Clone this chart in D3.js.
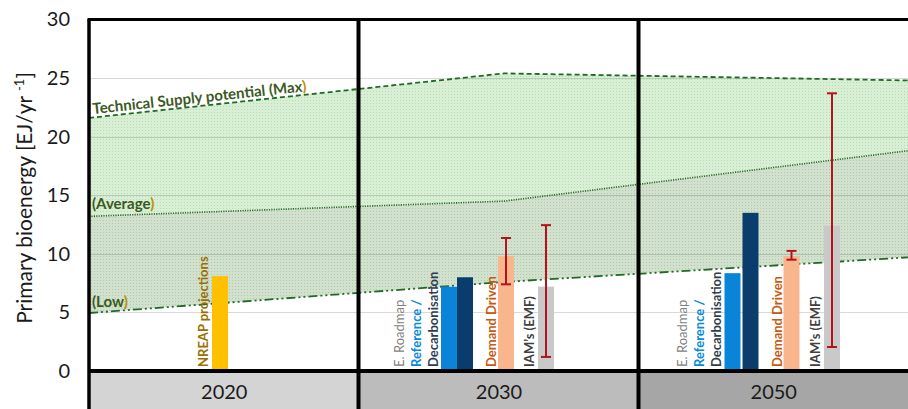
<!DOCTYPE html>
<html>
<head>
<meta charset="utf-8">
<script src="https://cdn.jsdelivr.net/npm/d3@7"></script>
<style>
  html, body { margin: 0; padding: 0; background: #fff; }
  svg { display: block; }
  text { font-family: Lato, "Open Sans", sans-serif; }
</style>
</head>
<body>
<svg id="chart" width="908" height="409"></svg>
<script>
// ---- data -------------------------------------------------------------
const categories = ["2020", "2030", "2050"];
const yTicks = [0, 5, 10, 15, 20, 25, 30];

// bar series, one value per category (null = not shown)
const nreapProjections   = [8.1, null, null];
const roadmapReference   = [null, 7.2, 8.35];
const roadmapDecarbon    = [null, 8.0, 13.5];
const demandDriven       = [null, 9.8, 9.8];
const demandDrivenLow    = [null, 7.4, 9.5];
const demandDrivenHigh   = [null, 11.35, 10.25];
const iamEmf             = [null, 7.2, 12.4];
const iamEmfLow          = [null, 1.2, 2.05];
const iamEmfHigh         = [null, 12.45, 23.7];

// technical supply potential envelope (x in category units, 0..3)
const potentialX   = [0, 1.52, 3];
const potentialMax = [21.6, 25.4, 24.8];
const potentialAvg = [13.2, 14.5, 18.8];
const potentialLow = [4.95, 7.6, 9.7];

// ---- layout -----------------------------------------------------------
const svg = d3.select("#chart");
const W = 908, H = 409;
const plotTop = 19.5, plotBottom = 371;
const x = d3.scaleLinear().domain([0, 1, 2, 3]).range([89, 358.5, 638.5, 908]);
const y = d3.scaleLinear().domain([0, 30]).range([plotBottom, plotTop]);

// bar centre offsets (px from the category's left edge)
const barWidth = 16;
const slots = {
  nreap: { off: [131, null, null], color: "#ffc000" },
  ref:   { off: [null, 90.5, 94],  color: "#0a84d8" },
  dec:   { off: [null, 106.5, 112], color: "#0b3d6c" },
  dd:    { off: [null, 147.5, 153], color: "#f9b58b" },
  iam:   { off: [null, 187.5, 193.5], color: "#c9c9c9" }
};
const barCx = (key, i) => x(i) + slots[key].off[i];

// ---- category band below the axis --------------------------------------
const bandFill = ["#d4d4d4", "#bcbcbc", "#a6a6a6"];
svg.append("g").selectAll("rect").data(categories).join("rect")
  .attr("x", (d, i) => x(i)).attr("y", plotBottom)
  .attr("width", (d, i) => x(i + 1) - x(i)).attr("height", H - plotBottom)
  .attr("fill", (d, i) => bandFill[i]);

// ---- potential envelope --------------------------------------------------
const defs = svg.append("defs");
function dotPattern(id, base, dot) {
  const p = defs.append("pattern").attr("id", id).attr("patternUnits", "userSpaceOnUse")
    .attr("width", 3).attr("height", 3);
  p.append("rect").attr("width", 3).attr("height", 3).attr("fill", base);
  p.append("rect").attr("x", 1).attr("y", 1).attr("width", 1).attr("height", 1).attr("fill", dot);
}
dotPattern("fillUpper", "#d9efd5", "#b8dcb1");
dotPattern("fillLower", "#d1e1cd", "#b3c9ad");

const env = potentialX.map((px, i) => ({ px, max: potentialMax[i], avg: potentialAvg[i], low: potentialLow[i] }));
const areaUpper = d3.area().x(d => x(d.px)).y0(d => y(d.avg)).y1(d => y(d.max));
const areaLower = d3.area().x(d => x(d.px)).y0(d => y(d.low)).y1(d => y(d.avg));
svg.append("path").datum(env).attr("d", areaUpper).attr("fill", "url(#fillUpper)");
svg.append("path").datum(env).attr("d", areaLower).attr("fill", "url(#fillLower)");

// ---- gridlines -----------------------------------------------------------
svg.append("g").selectAll("line").data(yTicks.filter(t => t > 0 && t < 30)).join("line")
  .attr("x1", x(0)).attr("x2", x(3))
  .attr("y1", d => Math.round(y(d)) + 0.5).attr("y2", d => Math.round(y(d)) + 0.5)
  .attr("stroke", "#000").attr("stroke-opacity", 0.15).attr("stroke-width", 1);

// ---- envelope lines ------------------------------------------------------
const lineOf = key => d3.line().x(d => x(d.px)).y(d => y(d[key]));
svg.append("path").datum(env).attr("d", lineOf("max")).attr("fill", "none")
  .attr("stroke", "#1f6b25").attr("stroke-width", 1.8).attr("stroke-dasharray", "5,3");
svg.append("path").datum(env).attr("d", lineOf("avg")).attr("fill", "none")
  .attr("stroke", "#2c6a2a").attr("stroke-width", 1.6).attr("stroke-dasharray", "1.2,1.2");
svg.append("path").datum(env).attr("d", lineOf("low")).attr("fill", "none")
  .attr("stroke", "#1f6b25").attr("stroke-width", 1.8).attr("stroke-dasharray", "9,3,2,3,2,3");

// envelope labels
const green = "#3a5a22", gold = "#bf8f00";
function envLabel(txt, px, py, rot) {
  const t = svg.append("text").attr("transform", `translate(${px},${py}) rotate(${rot})`)
    .attr("font-size", 15).attr("font-weight", 700).attr("fill", green);
  t.append("tspan").text(txt);
  t.append("tspan").attr("fill", gold).text(")");
}
envLabel("Technical Supply potential (Max", 93, 114, -6.1);
envLabel("(Average", 92, 209, 0);
envLabel("(Low", 92, 307, 0);

// ---- bars ----------------------------------------------------------------
const barSeries = [
  { key: "nreap", values: nreapProjections },
  { key: "ref", values: roadmapReference },
  { key: "dec", values: roadmapDecarbon },
  { key: "dd", values: demandDriven },
  { key: "iam", values: iamEmf }
];
const barData = [];
barSeries.forEach(s => s.values.forEach((v, i) => { if (v != null) barData.push({ key: s.key, i, v }); }));
svg.append("g").selectAll("rect").data(barData).join("rect")
  .attr("x", d => barCx(d.key, d.i) - barWidth / 2).attr("width", barWidth)
  .attr("y", d => y(d.v)).attr("height", d => y(0) - y(d.v))
  .attr("fill", d => slots[d.key].color);

// ---- error bars ------------------------------------------------------------
const errData = [];
[{ key: "dd", lo: demandDrivenLow, hi: demandDrivenHigh }, { key: "iam", lo: iamEmfLow, hi: iamEmfHigh }]
  .forEach(s => s.lo.forEach((lo, i) => { if (lo != null) errData.push({ key: s.key, i, lo, hi: s.hi[i] }); }));
const eg = svg.append("g").attr("stroke", "#b3141c").attr("stroke-width", 2);
errData.forEach(d => {
  const cx = barCx(d.key, d.i);
  eg.append("line").attr("x1", cx).attr("x2", cx).attr("y1", y(d.lo)).attr("y2", y(d.hi));
  eg.append("line").attr("x1", cx - 5).attr("x2", cx + 5).attr("y1", y(d.lo)).attr("y2", y(d.lo));
  eg.append("line").attr("x1", cx - 5).attr("x2", cx + 5).attr("y1", y(d.hi)).attr("y2", y(d.hi));
});

// ---- vertical series labels (offset in px from the bar centre) ---------------
const labelDefs = [
  { key: "nreap", dx: -17,  text: "NREAP projections", color: "#9a7000", weight: 700 },
  { key: "ref",   dx: -50,  text: "E. Roadmap",        color: "#7f7f7f", weight: 400 },
  { key: "ref",   dx: -33,  text: "Reference /",       color: "#0a8ad8", weight: 700 },
  { key: "ref",   dx: -16,  text: "Decarbonisation",   color: "#2f3d52", weight: 700 },
  { key: "dd",    dx: -14.5, text: "Demand Driven",    color: "#c55a11", weight: 700 },
  { key: "iam",   dx: -16.5, text: "IAM\u2019s (EMF)",  color: "#404040", weight: 700 }
];
const labelData = [];
labelDefs.forEach(l => categories.forEach((c, i) => { if (slots[l.key].off[i] != null) labelData.push({ ...l, i }); }));
svg.append("g").selectAll("text").data(labelData).join("text")
  .attr("transform", d => `translate(${barCx(d.key, d.i) + d.dx},367) rotate(-90)`)
  .attr("dy", "0.36em").attr("font-size", 13).attr("font-weight", d => d.weight)
  .attr("fill", d => d.color).text(d => d.text);

// ---- frame ----------------------------------------------------------------
const frame = svg.append("g").attr("stroke", "#000");
frame.append("line").attr("x1", x(0) - 1.5).attr("x2", x(3)).attr("y1", plotTop).attr("y2", plotTop).attr("stroke-width", 3);
[0, 1, 2].forEach(i => frame.append("line").attr("x1", x(i)).attr("x2", x(i))
  .attr("y1", plotTop).attr("y2", H).attr("stroke-width", i === 0 ? 3.5 : 4));
frame.append("line").attr("x1", x(0)).attr("x2", x(3)).attr("y1", plotBottom).attr("y2", plotBottom).attr("stroke-width", 4);

// ---- axes -------------------------------------------------------------------
const yAxis = svg.append("g").attr("transform", `translate(${x(0)},0)`)
  .call(d3.axisLeft(y).tickValues(yTicks).tickSize(0).tickPadding(19));
yAxis.select(".domain").remove();
yAxis.selectAll("text").attr("font-size", 20).attr("fill", "#1a1a1a")
  .attr("font-family", "Lato, sans-serif");

const xAxis = svg.append("g").attr("transform", `translate(0,${plotBottom})`)
  .call(d3.axisBottom(x).tickValues([0.5, 1.5, 2.5]).tickFormat((d, i) => categories[i]).tickSize(0).tickPadding(14));
xAxis.select(".domain").remove();
xAxis.selectAll("text").attr("font-size", 20).attr("fill", "#1a1a1a")
  .attr("font-family", "Lato, sans-serif");

const yTitle = svg.append("text").attr("transform", "translate(25,198) rotate(-90)")
  .attr("text-anchor", "middle").attr("dy", "0.35em").attr("font-size", 21).attr("fill", "#1a1a1a");
yTitle.append("tspan").text("Primary bioenergy [EJ/yr ");
yTitle.append("tspan").attr("font-size", 13).attr("baseline-shift", "super").text("-1");
yTitle.append("tspan").text("]");
</script>
</body>
</html>
